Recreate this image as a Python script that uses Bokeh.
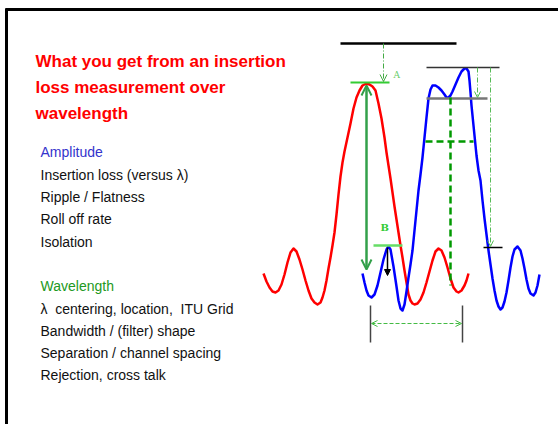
from bokeh.plotting import figure
from bokeh.models import Range1d, Arrow, OpenHead, NormalHead
from bokeh.core.properties import value
from bokeh.embed import file_html
from bokeh.resources import INLINE

# ---------------- data (pixel-like units) ----------------
red_x = [263, 266, 269, 272, 275, 278, 281, 284, 287, 290, 293, 296, 299, 302, 305, 308, 311, 314, 317,
         320, 322, 324, 326, 328, 330, 332, 334, 336, 338, 340, 342, 344, 347, 350, 353, 356, 359, 362, 366,
         369, 372, 375, 378, 381, 384, 386, 388, 390, 392, 394, 396, 398, 400, 402, 404, 406, 408, 410, 412,
         414, 417, 420, 423, 426, 429, 432, 435, 438, 441, 444, 447, 450, 453, 456, 458, 461, 464, 466, 468]
red_y = [273, 281, 287, 291, 292, 290, 284, 274, 262, 252, 248, 251, 259, 269, 280, 290, 298, 302, 304,
         302, 297, 290, 280, 268, 257, 245, 232, 214, 194, 176, 162, 151, 137, 123, 108, 97, 90, 85, 83,
         84, 86, 90, 103, 118, 137, 152, 165, 178, 192, 206, 219, 232, 245, 257, 270, 282, 294, 300, 303,
         304, 303, 299, 292, 282, 271, 260, 251, 248, 250, 257, 267, 278, 287, 291, 292, 290, 285, 280, 273]

blue_x = [362, 364, 366, 368, 371, 374, 377, 380, 383, 386, 388, 390, 393, 396, 398, 400, 402, 404, 406,
          408, 410, 412, 414, 416, 418, 420, 422, 424, 426, 428, 430, 432, 435, 438, 441, 444, 446, 448,
          450, 452, 455, 458, 461, 464, 466, 468, 469, 470, 471, 472, 474, 476, 478, 480, 482, 484, 486,
          488, 490, 492, 494, 496, 498, 500, 502, 504, 506, 508, 510, 512, 514, 517, 520, 522, 524, 526,
          528, 530, 533, 535, 537, 539]
blue_y = [273, 282, 290, 295, 297, 294, 285, 272, 259, 249, 246, 249, 266, 286, 300, 308, 310, 304, 291,
          277, 264, 250, 230, 210, 190, 174, 157, 137, 117, 98, 89, 85, 85, 87, 90, 94, 97, 97,
          95, 91, 84, 77, 71, 68, 68, 71, 80, 92, 105, 115, 135, 155, 170, 180, 200, 218, 234,
          250, 264, 278, 290, 300, 306, 309, 307, 301, 292, 280, 267, 256, 249, 246, 250, 258, 268, 279,
          288, 293, 295, 292, 285, 274]

title_lines = ["What you get from an insertion", "loss measurement over", "wavelength"]
amp_head = "Amplitude"
amp_items = ["Insertion loss (versus \u03bb)", "Ripple / Flatness", "Roll off rate", "Isolation"]
wl_head = "Wavelength"
wl_items = ["\u03bb\u00a0 centering, location,\u00a0 ITU Grid", "Bandwidth / (filter) shape",
            "Separation / channel spacing", "Rejection, cross talk"]
mark_labels = ["A", "B"]

# layout positions (reference pixel units)
title_y = [61, 87, 113]
amp_y = [151, 174, 196, 218, 241]
wl_y = [285, 308, 330, 352, 374]
frame_xs = [[5, 560], [6, 6]]
frame_ys = [[9, 9], [8, 430]]

# ---------------- figure ----------------
W, H = 558, 424
p = figure(width=W, height=H, output_backend="svg", toolbar_location=None,
           x_range=Range1d(0, W), y_range=Range1d(H, 0),
           min_border=0, x_axis_type=None, y_axis_type=None)
p.grid.visible = False
p.outline_line_color = None
p.background_fill_color = "white"
p.border_fill_color = "white"

# slide frame (top and left edges)
p.multi_line(frame_xs, frame_ys, line_color="black", line_width=3)

# ---------------- curves ----------------
p.line(red_x, red_y, line_color="#ff0000", line_width=2.5, line_join="round")
p.line(blue_x, blue_y, line_color="#0000ff", line_width=2.5, line_join="round")

# ---------------- annotations ----------------
p.segment([340], [43], [456], [43], line_color="black", line_width=2.5)
p.add_layout(Arrow(end=OpenHead(size=7, line_color="#44aa44", line_width=1),
                   x_start=383, y_start=43, x_end=383, y_end=81,
                   line_color="#44aa44", line_width=1, line_dash="5 2 1 2"))
p.segment([350], [82], [389], [82], line_color="#33cc33", line_width=2)
p.text([393], [74], text=[mark_labels[0]], text_color="#66cc66", text_font_size="9px",
       text_font=value("DejaVu Serif"), text_baseline="alphabetic")
p.add_layout(Arrow(start=OpenHead(size=10, line_color="#33a04a", line_width=2),
                   end=OpenHead(size=10, line_color="#33a04a", line_width=2),
                   x_start=366, y_start=85, x_end=366, y_end=269,
                   line_color="#33a04a", line_width=2.5))
p.segment([373], [245], [402], [245], line_color="#66dd66", line_width=2.5)
p.text([380], [227], text=[mark_labels[1]], text_color="#33cc33", text_font_size="10px",
       text_font=value("DejaVu Serif"), text_font_style="bold", text_baseline="alphabetic")
p.add_layout(Arrow(end=NormalHead(size=6, fill_color="black", line_color="black"),
                   x_start=387, y_start=247, x_end=387, y_end=275,
                   line_color="black", line_width=1.5))

p.segment([426], [67], [499], [67], line_color="#333333", line_width=1.5)
p.segment([426], [98], [487], [98], line_color="#777777", line_width=2.5)
p.add_layout(Arrow(end=OpenHead(size=6, line_color="#55bb55", line_width=1),
                   x_start=477, y_start=67, x_end=477, y_end=97,
                   line_color="#55bb55", line_width=1, line_dash="5 2 1 2"))
p.add_layout(Arrow(end=OpenHead(size=6, line_color="#55bb55", line_width=1),
                   x_start=490, y_start=67, x_end=490, y_end=246,
                   line_color="#55bb55", line_width=1, line_dash="5 2 1 2"))
p.segment([483], [247], [502], [247], line_color="black", line_width=1.5)

p.segment([450], [97], [450], [285], line_color="#009900", line_width=2.5, line_dash="7 4")
p.segment([425], [141], [473], [141], line_color="#009900", line_width=2.5, line_dash="7 4")

p.segment([370, 462], [305, 305], [370, 462], [342, 342], line_color="#444444", line_width=1.5)
p.add_layout(Arrow(start=OpenHead(size=6, line_color="#44bb44", line_width=1),
                   end=OpenHead(size=6, line_color="#44bb44", line_width=1),
                   x_start=371, y_start=323, x_end=461, y_end=323,
                   line_color="#44bb44", line_width=1, line_dash="4 2"))

# ---------------- texts ----------------
sans = value("Liberation Sans")
p.text([35] * 3, title_y, text=title_lines, text_color="#ff0000", text_font=sans,
       text_font_style="bold", text_font_size="17px", text_baseline="alphabetic")
p.text([40], [amp_y[0]], text=[amp_head], text_color="#3333cc", text_font=sans,
       text_font_size="14px", text_baseline="alphabetic")
p.text([40] * 4, amp_y[1:], text=amp_items, text_color="#111111", text_font=sans,
       text_font_size="14px", text_baseline="alphabetic")
p.text([40], [wl_y[0]], text=[wl_head], text_color="#229922", text_font=sans,
       text_font_size="14px", text_baseline="alphabetic")
p.text([40] * 4, wl_y[1:], text=wl_items, text_color="#111111", text_font=sans,
       text_font_size="14px", text_baseline="alphabetic")

open("out.html", "w").write(file_html(p, INLINE))
